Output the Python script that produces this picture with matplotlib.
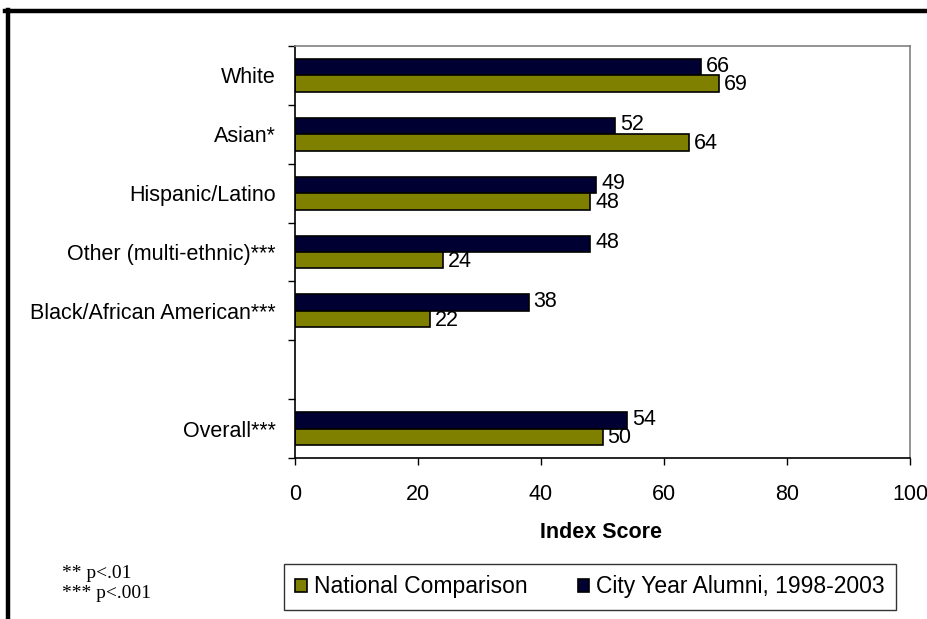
import matplotlib
matplotlib.use("Agg")
import matplotlib.pyplot as plt
from matplotlib.patches import Patch
from matplotlib.lines import Line2D
import numpy as np

categories = ["White", "Asian*", "Hispanic/Latino", "Other (multi-ethnic)***",
              "Black/African American***", "", "Overall***"]
city_year = [66, 52, 49, 48, 38, None, 54]
national = [69, 64, 48, 24, 22, None, 50]
xticks = [0, 20, 40, 60, 80, 100]

NAVY = "#000033"
OLIVE = "#808000"
FS = 15.5

plt.rcParams['font.family'] = ['Liberation Sans', 'DejaVu Sans']

W, H = 928, 619
fig = plt.figure(figsize=(W / 100, H / 100), dpi=100)
ax = fig.add_axes([295 / W, 1 - 458 / H, (910 - 295) / W, (458 - 46) / H])

bh = 0.28
pos = np.arange(len(categories))
for i, (c, n) in enumerate(zip(city_year, national)):
    if c is None:
        continue
    ax.barh(pos[i] - bh / 2, c, height=bh, color=NAVY, edgecolor="black", linewidth=1.2)
    ax.barh(pos[i] + bh / 2, n, height=bh, color=OLIVE, edgecolor="black", linewidth=1.2)
    ax.text(c + 0.8, pos[i] - bh / 2 - 0.02, f"{c}", va="center", ha="left", fontsize=FS)
    ax.text(n + 0.8, pos[i] + bh / 2 + 0.02, f"{n}", va="center", ha="left", fontsize=FS)

ax.set_xlim(0, 100)
ax.set_ylim(len(categories) - 0.5, -0.5)
ax.set_xticks(xticks)
ax.set_xticklabels([str(t) for t in xticks], fontsize=FS)
ax.set_yticks(pos)
ax.set_yticklabels(categories, fontsize=FS)
ax.tick_params(axis="y", which="major", length=0, pad=14)
ax.set_yticks(np.arange(len(categories) + 1) - 0.5, minor=True)
ax.tick_params(axis="y", which="minor", length=5, width=1, direction="out")
ax.tick_params(axis="x", length=5, width=1, direction="out", pad=14)
for s in ["top", "right"]:
    ax.spines[s].set_color("#808080")
    ax.spines[s].set_linewidth(1.2)
for s in ["left", "bottom"]:
    ax.spines[s].set_color("black")
    ax.spines[s].set_linewidth(1.2)

fig.text(601 / W, 1 - 533 / H, "Index Score", ha="center", va="center",
         fontsize=FS, fontweight="bold")

fig.text(62 / W, 1 - 574 / H, "** p<.01", ha="left", va="center",
         fontsize=14, family=["Liberation Serif", "DejaVu Serif"])
fig.text(62 / W, 1 - 593 / H, "*** p<.001", ha="left", va="center",
         fontsize=14, family=["Liberation Serif", "DejaVu Serif"])

handles = [Patch(facecolor=OLIVE, edgecolor="black", linewidth=1.2),
           Patch(facecolor=NAVY, edgecolor="black", linewidth=1.2)]
leg = fig.legend(handles, ["National Comparison", "City Year Alumni, 1998-2003"],
                 loc="center", bbox_to_anchor=(590 / W, 1 - 587 / H), ncol=2,
                 fontsize=16.5, frameon=True, fancybox=False, edgecolor="black",
                 handlelength=0.5, handleheight=0.5, handletextpad=0.3,
                 columnspacing=2.2, borderpad=0.5, borderaxespad=0)
leg.get_frame().set_linewidth(1.0)

fig.add_artist(Line2D([5 / W, 1], [1 - 11 / H, 1 - 11 / H], color="black",
                      linewidth=3.2, transform=fig.transFigure))
fig.add_artist(Line2D([7.5 / W, 7.5 / W], [0, 1 - 9.5 / H], color="black",
                      linewidth=3.2, transform=fig.transFigure))

fig.savefig("out.png", dpi=100)
